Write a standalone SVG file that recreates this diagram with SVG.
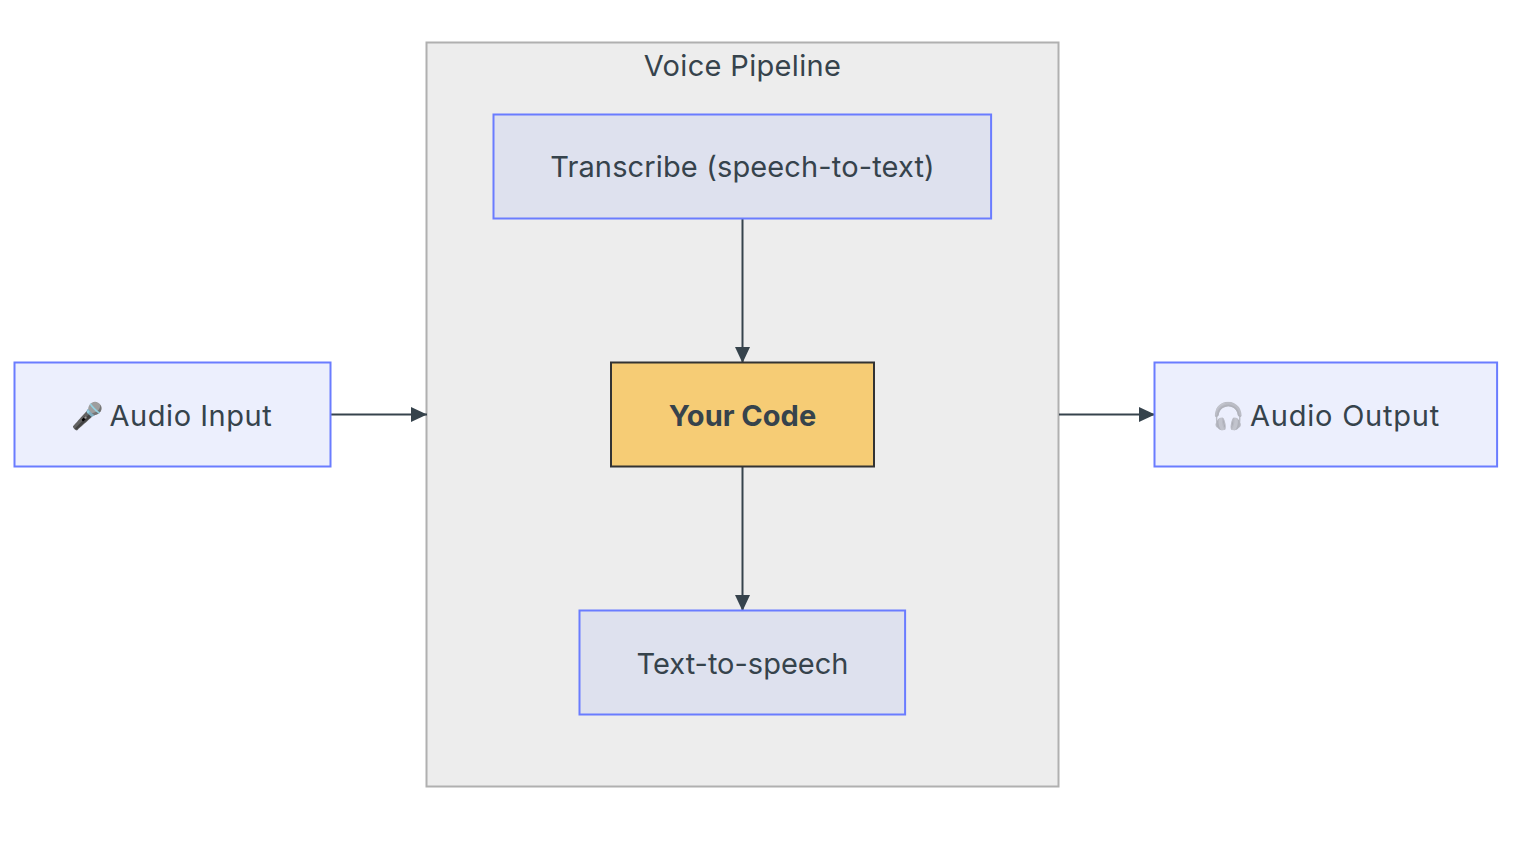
<svg xmlns="http://www.w3.org/2000/svg" width="1528" height="850" viewBox="0 0 1528 850">
<style>
text{font-family:Inter,"Noto Sans",sans-serif;font-size:29px;fill:#36434c;text-anchor:middle}
.l{letter-spacing:.14px}
.w{letter-spacing:.55px;text-anchor:start}
.e{font-size:26px;text-anchor:start}
.n{fill:#eceffd;stroke:#6a7cff;stroke-width:2}
.i{fill:#dee1ee;stroke:#6a7cff;stroke-width:2}
.c{fill:none;stroke:#36434c;stroke-width:2}
</style>
<defs><marker id="a" markerUnits="userSpaceOnUse" markerWidth="16" markerHeight="16" refX="16" refY="7.500" orient="auto"><path d="M0 0L16 7.500L0 15Z" fill="#36434c"/></marker></defs>
<rect width="1528" height="850" fill="#fff"/>
<g id="pipeline"><rect x="426.500" y="42.500" width="632" height="744" fill="#ededed" stroke="#b0b0b0" stroke-width="2"/><text x="742.500" y="76" style="letter-spacing:.33px">Voice Pipeline</text></g>
<g id="connectors">
<path class="c" marker-end="url(#a)" d="M331 414.500H427"/>
<path class="c" marker-end="url(#a)" d="M1059 414.500H1155"/>
<path class="c" marker-end="url(#a)" d="M742.500 219V363"/>
<path class="c" marker-end="url(#a)" d="M742.500 467V611"/>
</g>
<g id="input"><rect class="n" x="14.500" y="362.500" width="316" height="104"/><text x="71" y="425" class="e">🎤</text><text x="109.500" y="426" class="w">Audio Input</text></g>
<g id="transcribe"><rect class="i" x="493.500" y="114.500" width="497.600" height="104"/><text x="742.500" y="177" class="l">Transcribe (speech-to-text)</text></g>
<g id="code"><rect x="611" y="362.500" width="263" height="104" fill="#f6cc75" stroke="#333" stroke-width="2"/><text x="742.500" y="426" font-weight="700">Your Code</text></g>
<g id="tts"><rect class="i" x="579.500" y="610.500" width="325.600" height="104"/><text x="742.500" y="674">Text-to-speech</text></g>
<g id="output"><rect class="n" x="1154.500" y="362.500" width="342.600" height="104"/><text x="1212" y="425" class="e" style="opacity:.35">🎧</text><text x="1250" y="426" class="w" style="letter-spacing:.78px">Audio Output</text></g>
</svg>
